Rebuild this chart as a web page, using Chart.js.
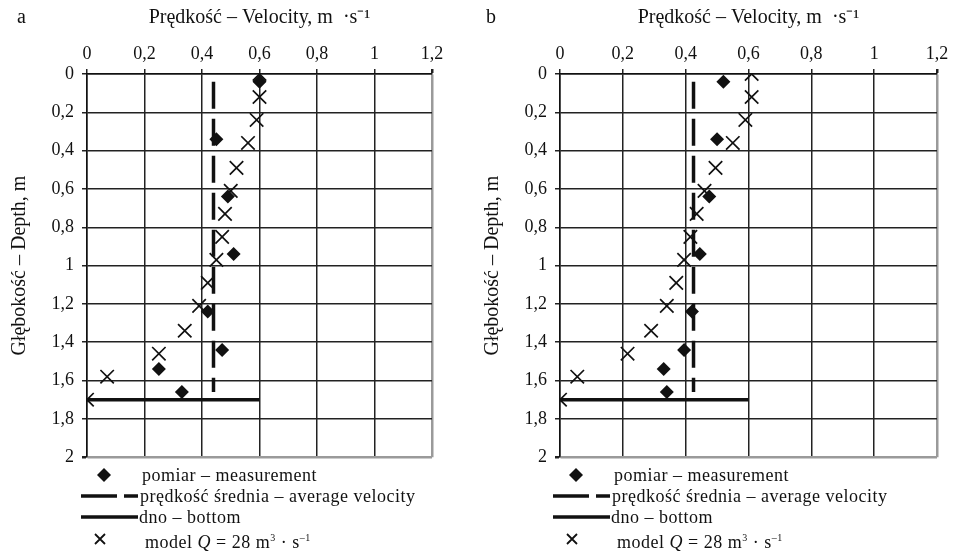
<!DOCTYPE html>
<html>
<head>
<meta charset="utf-8">
<script src="https://cdn.jsdelivr.net/npm/chart.js@4.4.1/dist/chart.umd.min.js"></script>
<style>
    body { margin: 0; background: #fff; }
    #wrap { position: relative; width: 953px; height: 554px; overflow: hidden; font-family: "Liberation Serif", serif; color: #111; }
    canvas { position: absolute; top: 0; }
    .tag { position: absolute; top: 5px; font-size: 20px; }
    .leg { position: absolute; font-size: 18px; line-height: 20px; white-space: nowrap; letter-spacing: 0.5px; }
    .leg svg { position: absolute; }
    sup { font-size: 10px; vertical-align: 7px; }
</style>
</head>
<body>
<div id="wrap">
    <canvas id="chartA" width="476" height="476" style="left:0"></canvas>
    <canvas id="chartB" width="480" height="476" style="left:473px"></canvas>
    <div class="tag" style="left:17px">a</div>
    <div class="tag" style="left:486px">b</div>
    <div id="legA"></div>
    <div id="legB"></div>
</div>
<script>
// depths (m) of measurement points and model points
const depthMeas = [0.04, 0.34, 0.64, 0.94, 1.24, 1.44, 1.54, 1.66];
const depthModel = [0, 0.12, 0.24, 0.36, 0.49, 0.61, 0.73, 0.85, 0.97, 1.09, 1.21, 1.34, 1.46, 1.58, 1.70];

// panel a
const velMeasA = [0.60, 0.45, 0.49, 0.51, 0.42, 0.47, 0.25, 0.33];
const velModelA = [0.60, 0.60, 0.59, 0.56, 0.52, 0.50, 0.48, 0.47, 0.45, 0.42, 0.39, 0.34, 0.25, 0.07, 0];
const avgVelA = 0.44;

// panel b
const velMeasB = [0.52, 0.50, 0.475, 0.445, 0.42, 0.395, 0.33, 0.34];
const velModelB = [0.61, 0.61, 0.59, 0.55, 0.495, 0.46, 0.435, 0.415, 0.395, 0.37, 0.34, 0.29, 0.215, 0.055, 0];
const avgVelB = 0.425;

// average line spans first..last measurement, bottom line at 1.7 m
const avgDepth = [0.04, 1.66];
const bottomDepth = 1.70;
const bottomVel = [0, 0.6];

const xTicks = [0, 0.2, 0.4, 0.6, 0.8, 1, 1.2];
const yTicks = [0, 0.2, 0.4, 0.6, 0.8, 1, 1.2, 1.4, 1.6, 1.8, 2];

const legendItems = ['pomiar – measurement', 'prędkość średnia – average velocity', 'dno – bottom', 'model <i>Q</i> = 28 m<sup>3</sup> · s<sup>–1</sup>'];

const fmt = v => String(Math.round(v * 10) / 10).replace('.', ',');
const tickFont = { family: '"Liberation Serif", serif', size: 18 };
const titleFont = { family: '"Liberation Serif", serif', size: 20 };

function makeChart(id, velMeas, velModel, avgVel) {
    const pts = (xs, ys) => xs.map((x, i) => ({ x: x, y: ys[i] }));

    return new Chart(document.getElementById(id), {
        type: 'scatter',
        data: {
            datasets: [
                {
                    label: 'pomiar',
                    data: pts(velMeas, depthMeas),
                    pointStyle: 'rectRot',
                    pointRadius: 7,
                    backgroundColor: '#111',
                    borderColor: '#111',
                    borderWidth: 0
                },
                {
                    label: 'model',
                    data: pts(velModel, depthModel),
                    pointStyle: 'crossRot',
                    pointRadius: 9.5,
                    borderColor: '#111',
                    borderWidth: 1.7
                },
                {
                    label: 'średnia',
                    data: avgDepth.map(d => ({ x: avgVel, y: d })),
                    showLine: true,
                    pointRadius: 0,
                    borderColor: '#111',
                    borderWidth: 3.5,
                    borderDash: [27, 10]
                },
                {
                    label: 'dno',
                    data: bottomVel.map(v => ({ x: v, y: bottomDepth })),
                    showLine: true,
                    pointRadius: 0,
                    borderColor: '#111',
                    borderWidth: 3.5
                }
            ]
        },
        options: {
            responsive: false,
            animation: false,
            layout: { padding: { right: id === 'chartA' ? 44 : 16, bottom: 14 } },
            plugins: { legend: { display: false }, tooltip: { enabled: false } },
            scales: {
                x: {
                    type: 'linear',
                    position: 'top',
                    min: 0, max: 1.2,
                    afterBuildTicks: s => { s.ticks = xTicks.map(v => ({ value: v })); },
                    afterFit: s => { s.height = 74; },
                    ticks: { callback: fmt, font: tickFont, color: '#111', padding: 4, maxRotation: 0 },
                    grid: {
                        color: c => c.tick && c.tick.value === 1.2 ? '#9a9a9a' : '#222',
                        lineWidth: c => c.tick && c.tick.value === 1.2 ? 2.5 : 1.5,
                        tickColor: '#222',
                        tickLength: 5
                    },
                    border: { color: '#111', width: 1.5 },
                    title: { display: true, text: 'Prędkość – Velocity, m  ·s⁻¹', font: titleFont, color: '#111', padding: { top: 6, bottom: 0 } }
                },
                y: {
                    type: 'linear',
                    reverse: true,
                    min: 0, max: 2,
                    afterBuildTicks: s => { s.ticks = yTicks.map(v => ({ value: v })); },
                    afterFit: s => { s.width = 87; },
                    ticks: { callback: fmt, font: tickFont, color: '#111', padding: 8 },
                    grid: {
                        color: c => c.tick && c.tick.value === 2 ? '#9a9a9a' : '#222',
                        lineWidth: c => c.tick && c.tick.value === 2 ? 2.5 : 1.5,
                        tickColor: '#222',
                        tickLength: 5
                    },
                    border: { color: '#111', width: 1.5 },
                    title: { display: true, text: 'Głębokość – Depth, m', font: titleFont, color: '#111', padding: { top: 8, bottom: 0 } }
                }
            }
        }
    });
}

function makeLegend(id, dx) {
    const icons = [
        '<svg width="16" height="16" style="left:' + (96 + dx) + 'px;top:2px"><polygon points="8,1 15,8 8,15 1,8" fill="#111"/></svg>',
        '<svg width="58" height="8" style="left:' + (81 + dx) + 'px;top:6px"><line x1="0" y1="4" x2="36" y2="4" stroke="#111" stroke-width="3.5"/><line x1="43" y1="4" x2="57" y2="4" stroke="#111" stroke-width="3.5"/></svg>',
        '<svg width="58" height="8" style="left:' + (81 + dx) + 'px;top:6px"><line x1="0" y1="4" x2="57" y2="4" stroke="#111" stroke-width="3.5"/></svg>',
        '<svg width="14" height="14" style="left:' + (93 + dx) + 'px;top:4px"><path d="M2,2 L12,12 M12,2 L2,12" stroke="#111" stroke-width="1.8"/></svg>'
    ];
    const textX = [142, 140, 139, 145];
    const rowY = [465, 486, 507, 528];
    let html = '';
    legendItems.forEach((t, i) => {
        html += '<div class="leg" style="left:0;top:' + rowY[i] + 'px;width:953px;height:22px">' + icons[i] +
            '<span style="position:absolute;left:' + (textX[i] + dx) + 'px">' + t + '</span></div>';
    });
    document.getElementById(id).innerHTML = html;
}

makeChart('chartA', velMeasA, velModelA, avgVelA);
makeChart('chartB', velMeasB, velModelB, avgVelB);
makeLegend('legA', 0);
makeLegend('legB', 472);
</script>
</body>
</html>
